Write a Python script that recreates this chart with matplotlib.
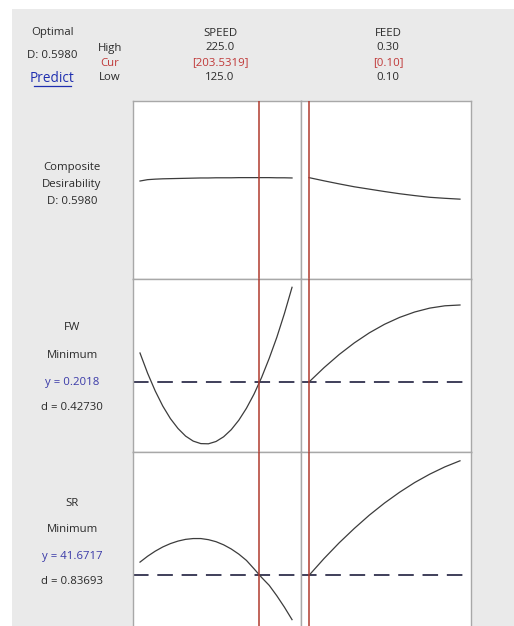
import matplotlib.pyplot as plt
from matplotlib.patches import Rectangle

plt.rcParams['font.family'] = ['Open Sans', 'DejaVu Sans']

# factor settings
speed = [125, 130, 135, 140, 145, 150, 155, 160, 165, 170, 175,
         180, 185, 190, 195, 200, 205, 210, 215, 220, 225]
feed = [0.10, 0.12, 0.14, 0.16, 0.18, 0.20, 0.22, 0.24, 0.26, 0.28, 0.30]
speed_cur = 203.5319
feed_cur = 0.10

# composite desirability
d_speed = [0.578, 0.586, 0.589, 0.591, 0.592, 0.593, 0.594, 0.595, 0.596, 0.596, 0.597,
           0.597, 0.597, 0.598, 0.598, 0.598, 0.598, 0.598, 0.597, 0.597, 0.596]
d_feed = [0.598, 0.579, 0.561, 0.544, 0.530, 0.516, 0.503, 0.492, 0.482, 0.476, 0.471]

# FW response
fw_speed = [0.2308, 0.2106, 0.1929, 0.1777, 0.1652, 0.1553, 0.1477, 0.1427, 0.1402, 0.1400, 0.1423,
            0.1470, 0.1541, 0.1636, 0.1755, 0.1897, 0.2064, 0.2255, 0.2465, 0.2703, 0.2965]
fw_feed = [0.2018, 0.2162, 0.2293, 0.2409, 0.2510, 0.2595, 0.2664, 0.2718, 0.2757, 0.2780, 0.2788]
fw_y = 0.2018

# SR response
sr_speed = [42.98, 43.56, 44.06, 44.48, 44.81, 45.06, 45.23, 45.31, 45.31, 45.20, 45.00,
            44.69, 44.28, 43.77, 43.15, 42.32, 41.46, 40.68, 39.65, 38.52, 37.29]
sr_feed = [41.67, 43.34, 44.89, 46.31, 47.63, 48.82, 49.89, 50.85, 51.68, 52.40, 53.00]
sr_y = 41.6717

W, H = 514, 626
fig = plt.figure(figsize=(W / 100, H / 100), dpi=100)
fig.patch.set_facecolor('white')
fig.patches.append(Rectangle((12 / W, 0), (W - 12) / W, (H - 9) / H,
                             transform=fig.transFigure, facecolor='#eaeaea',
                             edgecolor='none', zorder=-5))


def px_axes(x0, y0, x1, y1):
    # pixel box (top-left origin) -> figure axes
    ax = fig.add_axes([x0 / W, 1 - y1 / H, (x1 - x0) / W, (y1 - y0) / H])
    ax.set_zorder(2)
    return ax


border = '#a8a8a8'
curve_c = '#3c3c3c'
red = '#b03a2e'
dash_c = '#3f3f5a'

rows = [(101, 279), (279, 452), (452, 634)]
cols = [(133, 301), (301, 471)]
xlims = [(120.4, 230.9), (0.0894, 0.3146)]
ylims = [(0, 1.05), (0.1318, 0.3048), (35.87, 53.87)]
curves = [(speed, d_speed, feed, d_feed),
          (speed, fw_speed, feed, fw_feed),
          (speed, sr_speed, feed, sr_feed)]
targets = [None, fw_y, sr_y]

for r, (y0, y1) in enumerate(rows):
    for c, (x0, x1) in enumerate(cols):
        ax = px_axes(x0, y0, x1, y1)
        ax.set_facecolor('white')
        ax.set_xlim(*xlims[c])
        ax.set_ylim(*ylims[r])
        ax.set_xticks([])
        ax.set_yticks([])
        for s in ax.spines.values():
            s.set_color(border)
            s.set_linewidth(1.0)
        xs = curves[r][2 * c]
        ys = curves[r][2 * c + 1]
        ax.plot(xs, ys, color=curve_c, lw=0.9, zorder=3)
        ax.axvline(speed_cur if c == 0 else feed_cur, color=red, lw=1.1, zorder=4)
        if targets[r] is not None:
            ax.axhline(targets[r], color=dash_c, lw=1.4, ls=(0, (8, 4.5)), zorder=2)


def label(x, y, s, color='#2a2a2a', size=8.2):
    fig.text(x / W, 1 - y / H, s, ha='center', va='center', fontsize=size, color=color)


label(52, 33, 'Optimal')
label(52, 56, 'D: 0.5980')
label(52, 78, 'Predict', color='#1f2fb0', size=9.8)
fig.add_artist(plt.Line2D([34 / W, 71 / W], [1 - 86 / H, 1 - 86 / H], color='#1f2fb0', lw=0.9))
label(110, 48, 'High')
label(110, 63, 'Cur', color='#c03838')
label(110, 78, 'Low')

for xc, name, hi, cur, lo in [(220, 'SPEED', '225.0', '[203.5319]', '125.0'),
                              (388, 'FEED', '0.30', '[0.10]', '0.10')]:
    label(xc, 33, name)
    label(xc, 48, hi)
    label(xc, 63, cur, color='#c03838')
    label(xc, 78, lo)

label(72, 168, 'Composite')
label(72, 184, 'Desirability')
label(72, 202, 'D: 0.5980')

label(72, 328, 'FW')
label(72, 356, 'Minimum')
label(72, 382, 'y = 0.2018', color='#3a3aa8')
label(72, 408, 'd = 0.42730')

label(72, 503, 'SR')
label(72, 530, 'Minimum')
label(72, 556, 'y = 41.6717', color='#3a3aa8')
label(72, 582, 'd = 0.83693')

fig.savefig('out.png', dpi=100)
